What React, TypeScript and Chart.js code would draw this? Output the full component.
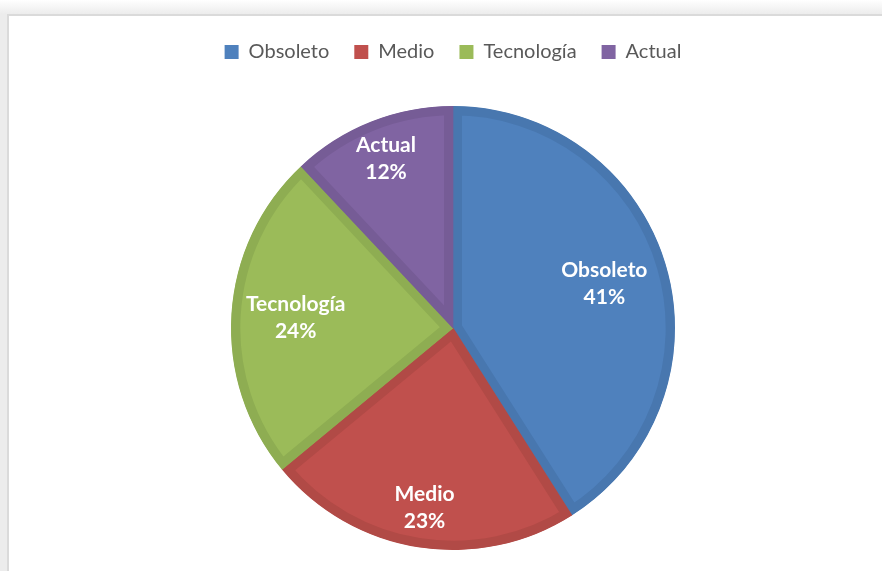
import React, { useEffect, useRef } from "react";
import { Chart, registerables } from "chart.js";

Chart.register(...registerables);

const categories = ["Obsoleto", "Medio", "Tecnología", "Actual"];
const values = [41, 23, 24, 12];
const fillColors = ["#4F81BD", "#C0504D", "#9BBB59", "#8064A2"];
const edgeColors = ["#4877AF", "#B14A46", "#8EAD52", "#765C96"];
const labelRadius = [0.71, 0.82, 0.71, 0.82];

const FONT = "Lato, 'Open Sans', sans-serif";

const legendSpacer = {
  id: "legendSpacer",
  beforeInit(chart: any) {
    const leg = chart.legend;
    if (!leg) return;
    const orig = leg.fit;
    leg.fit = function () {
      orig.call(this);
      this.height += 34;
    };
  },
};

const sliceLabels = {
  id: "sliceLabels",
  afterDatasetsDraw(chart: any) {
    const ctx = chart.ctx;
    const meta = chart.getDatasetMeta(0);
    const data = chart.data.datasets[0].data as number[];
    const total = data.reduce((a: number, b: number) => a + b, 0);
    ctx.save();
    ctx.fillStyle = "#FFFFFF";
    ctx.font = `bold 21px ${FONT}`;
    ctx.textAlign = "center";
    ctx.textBaseline = "middle";
    meta.data.forEach((arc: any, i: number) => {
      const p = arc.getProps(["x", "y", "startAngle", "endAngle", "outerRadius"], true);
      const mid = (p.startAngle + p.endAngle) / 2;
      const r = p.outerRadius * labelRadius[i];
      const cx = p.x + Math.cos(mid) * r;
      const cy = p.y + Math.sin(mid) * r;
      const pct = Math.round((data[i] / total) * 100) + "%";
      ctx.fillText(chart.data.labels[i], cx, cy - 13.5);
      ctx.fillText(pct, cx, cy + 13.5);
    });
    ctx.restore();
  },
};

export default function App() {
  const ref = useRef<HTMLCanvasElement | null>(null);

  useEffect(() => {
    if (!ref.current) return;
    const chart = new Chart(ref.current, {
      type: "pie",
      data: {
        labels: categories,
        datasets: [
          {
            data: values,
            backgroundColor: fillColors,
            borderColor: edgeColors,
            borderWidth: 9,
            borderAlign: "inner",
          } as any,
        ],
      },
      options: {
        responsive: false,
        animation: false,
        radius: 222,
        layout: { padding: { top: 17, bottom: 21, left: 24, right: 0 } },
        plugins: {
          legend: {
            position: "top",
            labels: {
              boxWidth: 14,
              boxHeight: 14,
              padding: 25,
              color: "#595959",
              font: { family: FONT, size: 20 },
              generateLabels: (chart: any) =>
                chart.data.labels.map((text: string, i: number) => ({
                  text,
                  fillStyle: fillColors[i],
                  strokeStyle: fillColors[i],
                  lineWidth: 0,
                  fontColor: "#595959",
                  hidden: false,
                  index: i,
                })),
            },
          },
          tooltip: { enabled: false },
        },
      } as any,
      plugins: [legendSpacer, sliceLabels],
    });
    return () => chart.destroy();
  }, []);

  return (
    <div
      style={{
        position: "absolute",
        left: 0,
        top: 0,
        width: 882,
        height: 571,
        overflow: "hidden",
        background: "linear-gradient(#ffffff 0px, #ececec 14px)",
      }}
    >
      <div
        style={{
          position: "absolute",
          left: 7,
          top: 14,
          width: 900,
          height: 600,
          background: "#ffffff",
          border: "2px solid #dadada",
        }}
      />
      <canvas
        ref={ref}
        width={882}
        height={571}
        style={{ position: "absolute", left: 0, top: 0, width: 882, height: 571 }}
      />
    </div>
  );
}
